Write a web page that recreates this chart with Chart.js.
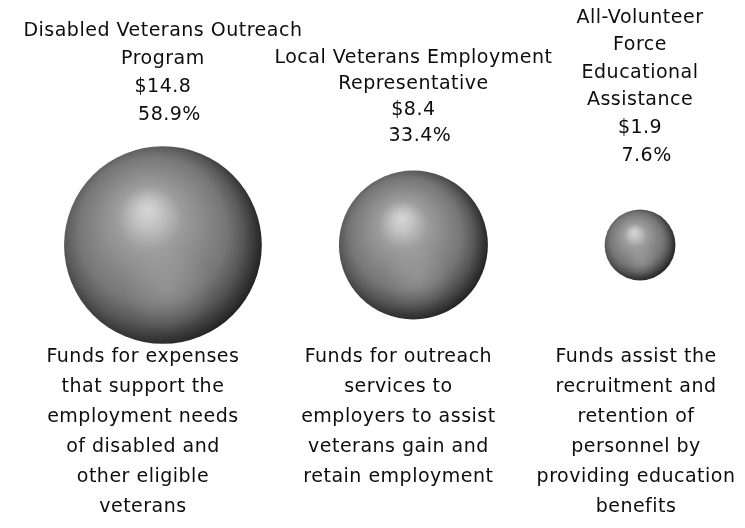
<!DOCTYPE html>
<html>
<head>
<meta charset="utf-8">
<script src="https://cdn.jsdelivr.net/npm/chart.js@4.4.1/dist/chart.umd.min.js"></script>
<style>
    html, body { margin: 0; padding: 0; background: #ffffff; }
    #wrap { width: 745px; height: 528px; }
</style>
</head>
<body>
<div id="wrap"><canvas id="spherecanvas" width="745" height="528"></canvas></div>
<script>
// program names (top labels)
let programNames = [
    ["Disabled Veterans Outreach", "Program"],
    ["Local Veterans Employment", "Representative"],
    ["All-Volunteer", "Force", "Educational", "Assistance"]
];
// funding in $ millions and share of total
let fundValues = [14.8, 8.4, 1.9];
let fundShares = [58.9, 33.4, 7.6];
// position of each sphere along the row
let rowPositions = [1, 2.05, 3];
// text under each sphere
let descriptions = [
    ["Funds for expenses", "that support the", "employment needs", "of disabled and", "other eligible", "veterans"],
    ["Funds for outreach", "services to", "employers to assist", "veterans gain and", "retain employment"],
    ["Funds assist the", "recruitment and", "retention of", "personnel by", "providing education", "benefits"]
];

// layout / style (not data)
let radiusScale = 25.7;        // px per sqrt($M)
let labelGap = [31, 34, 54];   // space between label block and sphere top
let labelLineH = [28, 26, 27.6];
let descShift = [-20, -15, -4];
let fontSpec = '19px "DejaVu Sans"';
let descLineH = 30;

function sphereFill(context) {
    let chart = context.chart;
    let raw = context.raw;
    if (context.type !== 'data' || !raw || !chart.scales.x || !chart.scales.y) {
        return '#888888';
    }
    let cx = chart.scales.x.getPixelForValue(raw.x);
    let cy = chart.scales.y.getPixelForValue(raw.y);
    let r = radiusScale * Math.sqrt(raw.v);
    if (!isFinite(cx) || !isFinite(cy)) {
        return '#888888';
    }
    let g = chart.ctx.createRadialGradient(cx - 0.16 * r, cy - 0.36 * r, 0, cx - 0.08 * r, cy - 0.05 * r, 1.1 * r);
    g.addColorStop(0, '#d6d6d6');
    g.addColorStop(0.12, '#c4c4c4');
    g.addColorStop(0.3, '#9c9c9c');
    g.addColorStop(0.5, '#888888');
    g.addColorStop(0.68, '#767676');
    g.addColorStop(0.82, '#585858');
    g.addColorStop(0.93, '#363636');
    g.addColorStop(1, '#202020');
    return g;
}

// soft reflection low on each sphere
let sphereGlow = {
    id: 'sphereGlow',
    afterDatasetsDraw(chart) {
        let ctx = chart.ctx;
        let meta = chart.getDatasetMeta(0);
        meta.data.forEach(function(el, i) {
            let r = radiusScale * Math.sqrt(fundValues[i]);
            ctx.save();
            ctx.beginPath();
            ctx.arc(el.x, el.y, r, 0, Math.PI * 2);
            ctx.clip();
            let g = ctx.createRadialGradient(el.x + 0.05 * r, el.y + 0.45 * r, 0, el.x + 0.05 * r, el.y + 0.45 * r, 0.45 * r);
            g.addColorStop(0, 'rgba(255,255,255,0.14)');
            g.addColorStop(1, 'rgba(255,255,255,0)');
            ctx.fillStyle = g;
            ctx.fillRect(el.x - r, el.y - r, 2 * r, 2 * r);
            ctx.restore();
        });
    }
};

// text above and below every sphere
let sphereText = {
    id: 'sphereText',
    afterDatasetsDraw(chart) {
        let ctx = chart.ctx;
        let meta = chart.getDatasetMeta(0);
        let lowest = 0;
        meta.data.forEach(function(el, i) {
            lowest = Math.max(lowest, el.y + radiusScale * Math.sqrt(fundValues[i]));
        });
        ctx.save();
        ctx.font = fontSpec;
        ctx.letterSpacing = '0.5px';
        ctx.fillStyle = '#0d0d0d';
        ctx.textAlign = 'center';
        ctx.textBaseline = 'middle';
        meta.data.forEach(function(el, i) {
            let r = radiusScale * Math.sqrt(fundValues[i]);
            let lines = programNames[i].concat(['$' + fundValues[i].toFixed(1), '  ' + fundShares[i].toFixed(1) + '%']);
            let bottom = el.y - r - labelGap[i];
            lines.forEach(function(t, k) {
                let y = bottom - (lines.length - 1 - k) * labelLineH[i];
                ctx.fillText(t, el.x, y);
            });
            let top = lowest + 13;
            descriptions[i].forEach(function(t, k) {
                ctx.fillText(t, el.x + descShift[i], top + k * descLineH);
            });
        });
        ctx.restore();
    }
};

let points = fundValues.map(function(v, i) {
    return { x: rowPositions[i], y: 0, v: v };
});

let sphereChart = new Chart(document.getElementById('spherecanvas').getContext('2d'), {
    type: 'bubble',
    data: {
        datasets: [{
            data: points,
            backgroundColor: sphereFill,
            borderWidth: 0,
            hoverBorderWidth: 0,
            radius: function(context) {
                if (!context.raw) return 3;
                return radiusScale * Math.sqrt(context.raw.v);
            }
        }]
    },
    options: {
        responsive: false,
        animation: false,
        layout: { autoPadding: false, padding: { top: 0, bottom: 38, left: 0, right: 0 } },
        scales: {
            x: { type: 'linear', min: 0.317, max: 3.44, display: false },
            y: { type: 'linear', min: -1, max: 1, display: false }
        },
        plugins: {
            legend: { display: false },
            tooltip: { enabled: false }
        }
    },
    plugins: [sphereGlow, sphereText]
});
</script>
</body>
</html>
